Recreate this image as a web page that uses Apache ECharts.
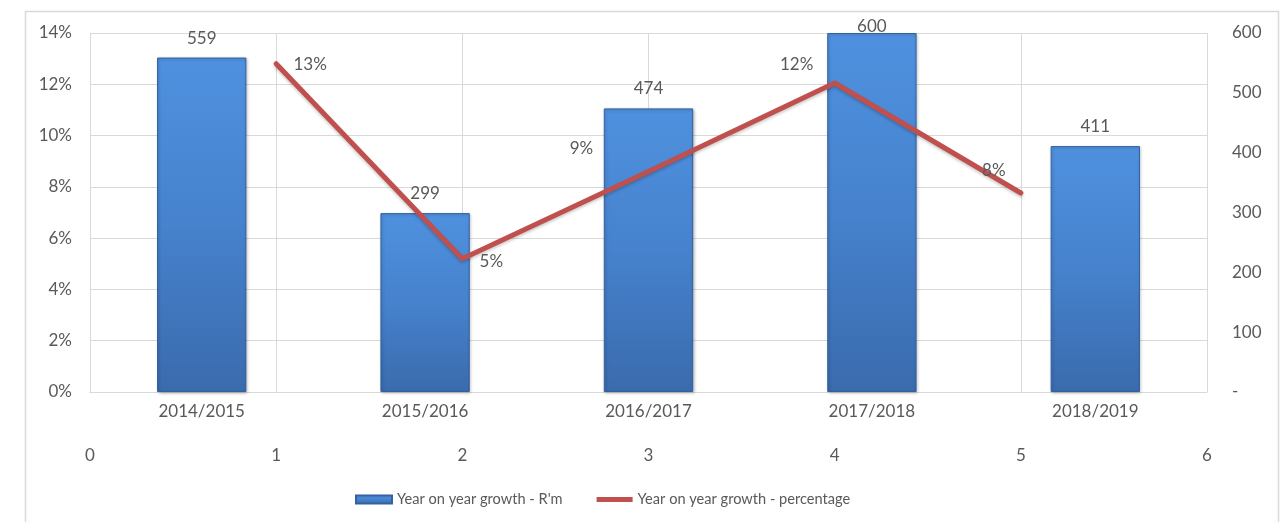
<!DOCTYPE html>
<html>
<head>
<meta charset="utf-8">
<title>Year on year growth</title>
<script src="https://cdn.jsdelivr.net/npm/echarts@6/dist/echarts.min.js"></script>
<style>
  html, body { margin: 0; padding: 0; background: #ffffff; }
  #chart { width: 1288px; height: 522px; }
</style>
</head>
<body>
<div id="chart"></div>
<script>
// Financial years on the category axis
const categories = ['2014/2015', '2015/2016', '2016/2017', '2017/2018', '2018/2019'];
// Growth in R'm (right axis)
const growthRm = [559, 299, 474, 600, 411];
// Growth as a fraction (left axis), plotted on the 0–6 value axis
const growthPctX = [1, 2, 3, 4, 5];
const growthPct = [0.128, 0.052, 0.086, 0.1205, 0.0776];
// Tick settings
const pctTicks = { min: 0, max: 0.14, interval: 0.02 };
const rmTicks = { min: 0, max: 600, interval: 100 };
const xTicks = { min: 0, max: 6, interval: 1 };

// Label nudges (pixels): bar labels are pulled down where they would leave the frame
const barLabelOffsets = [[0, 0], [0, 0], [0, 0], [0, 13], [0, 0]];
const pctLabelOffsets = [[34, 1], [29, 3], [-67, -23], [-38, -18], [-27, -22]];

const FONT = 'Lato';
const TXT = '#595959';
const GRID = '#d9d9d9';

const chart = echarts.init(document.getElementById('chart'), null, { renderer: 'canvas' });

const barColor = new echarts.graphic.LinearGradient(0, 0, 0, 1, [
  { offset: 0, color: '#4f91df' },
  { offset: 0.5, color: '#4682cd' },
  { offset: 1, color: '#3a6bad' }
]);

chart.setOption({
  backgroundColor: '#ffffff',
  animation: false,
  textStyle: { fontFamily: FONT, color: TXT },
  graphic: [{
    type: 'rect',
    shape: { x: 25.5, y: 11.5, width: 1253, height: 620 },
    style: { fill: 'none', stroke: '#d9d9d9', lineWidth: 1.5 },
    silent: true
  }],
  grid: { left: 90, right: 81, top: 33, bottom: 130, containLabel: false },
  legend: {
    left: 350,
    top: 487,
    itemWidth: 36,
    itemHeight: 8,
    itemGap: 34,
    textStyle: { fontFamily: FONT, fontSize: 14.6, color: TXT },
    data: [
      { name: "Year on year growth - R'm", icon: 'rect' },
      { name: 'Year on year growth - percentage', icon: 'path://M0,0 H36 V5 H0 Z' }
    ]
  },
  xAxis: [
    {
      type: 'category',
      position: 'bottom',
      data: categories,
      axisLine: { onZero: false, lineStyle: { color: GRID, width: 1 } },
      axisTick: { show: false },
      axisLabel: { margin: 11, fontFamily: FONT, fontSize: 17, color: TXT },
      splitLine: { show: false }
    },
    {
      type: 'value',
      position: 'bottom',
      min: xTicks.min,
      max: xTicks.max,
      interval: xTicks.interval,
      axisLine: { show: false, onZero: false },
      axisTick: { show: false },
      axisLabel: { margin: 55, fontFamily: FONT, fontSize: 17, color: TXT },
      splitLine: { show: true, lineStyle: { color: GRID, width: 1 } }
    }
  ],
  yAxis: [
    {
      type: 'value',
      position: 'left',
      min: pctTicks.min,
      max: pctTicks.max,
      interval: pctTicks.interval,
      axisLine: { show: false },
      axisTick: { show: false },
      axisLabel: {
        margin: 18, fontFamily: FONT, fontSize: 17, color: TXT,
        formatter: v => Math.round(v * 100) + '%'
      },
      splitLine: { show: true, lineStyle: { color: GRID, width: 1 } }
    },
    {
      type: 'value',
      position: 'right',
      min: rmTicks.min,
      max: rmTicks.max,
      interval: rmTicks.interval,
      axisLine: { show: false },
      axisTick: { show: false },
      axisLabel: {
        margin: 25, fontFamily: FONT, fontSize: 17, color: TXT,
        formatter: v => (v === 0 ? '-' : String(v))
      },
      splitLine: { show: false }
    }
  ],
  series: [
    {
      name: "Year on year growth - R'm",
      type: 'bar',
      xAxisIndex: 0,
      yAxisIndex: 1,
      barWidth: '40%',
      data: growthRm.map((v, i) => ({
        value: v,
        label: { offset: barLabelOffsets[i] }
      })),
      itemStyle: {
        color: barColor,
        borderColor: '#33619f',
        borderWidth: 1,
        shadowColor: 'rgba(0,0,0,0.25)',
        shadowBlur: 3,
        shadowOffsetX: 1,
        shadowOffsetY: 1
      },
      label: {
        show: true,
        position: 'top',
        distance: 11,
        fontFamily: FONT,
        fontSize: 17,
        color: TXT
      },
      z: 2
    },
    {
      name: 'Year on year growth - percentage',
      type: 'line',
      xAxisIndex: 1,
      yAxisIndex: 0,
      symbol: 'circle',
      symbolSize: 1,
      showSymbol: true,
      itemStyle: { color: '#c0504d' },
      lineStyle: {
        color: '#c0504d',
        width: 5,
        cap: 'round',
        join: 'round',
        shadowColor: 'rgba(0,0,0,0.2)',
        shadowBlur: 3,
        shadowOffsetY: 2
      },
      label: {
        show: true,
        position: 'inside',
        fontFamily: FONT,
        fontSize: 17,
        color: TXT,
        formatter: p => Math.round(p.value[1] * 100) + '%'
      },
      data: growthPctX.map((x, i) => ({
        value: [x, growthPct[i]],
        label: { offset: pctLabelOffsets[i] }
      })),
      z: 3
    }
  ]
});
</script>
</body>
</html>
